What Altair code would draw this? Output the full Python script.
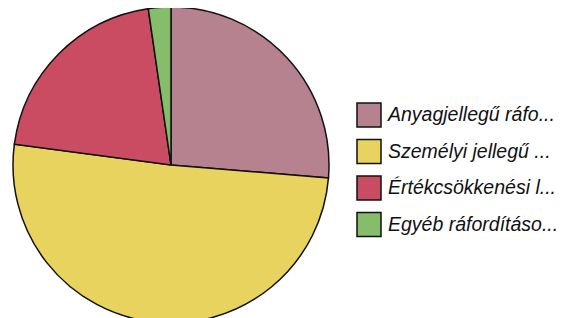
import altair as alt
import pandas as pd

categories = ["Anyagjellegű ráfo...", "Személyi jellegű ...", "Értékcsökkenési l...", "Egyéb ráfordításo..."]
values = [26.3, 50.8, 20.6, 2.3]
colors = ["#b7828f", "#e8d35e", "#c94c63", "#85bd6a"]
title_text = "Az egyes ráfordítások"

df = pd.DataFrame({"cat": categories, "val": values, "order": list(range(len(categories)))})

pie = alt.Chart(df).mark_arc(stroke="#111111", strokeWidth=1.5, radius=158).encode(
    theta=alt.Theta("val:Q", stack=True),
    order=alt.Order("order:Q"),
    x=alt.value(163),
    y=alt.value(157),
    color=alt.Color(
        "cat:N",
        sort=categories,
        scale=alt.Scale(domain=categories, range=colors),
        legend=alt.Legend(
            title=None,
            orient="none",
            legendX=348,
            legendY=94,
            symbolType="square",
            symbolSize=576,
            symbolStrokeColor="#111111",
            symbolStrokeWidth=1.5,
            symbolOpacity=1,
            labelFont="Liberation Sans",
            labelFontStyle="italic",
            labelFontSize=19.5,
            labelColor="#111111",
            labelOffset=6,
            labelLimit=300,
            rowPadding=6.5,
            padding=0,
        ),
    ),
)

title = alt.Chart(pd.DataFrame({"t": [title_text]})).mark_text(
    font="Liberation Sans", fontSize=16, color="#111111", baseline="alphabetic", align="left"
).encode(text="t:N", x=alt.value(226), y=alt.value(-5.5))

chart = alt.layer(pie, title).properties(
    width=553, height=310, autosize=alt.AutoSizeParams(type="none"), padding=0
).configure(background="#ffffff").configure_view(stroke=None)

chart.save("out.html", embed_options={"renderer": "svg", "actions": False})
